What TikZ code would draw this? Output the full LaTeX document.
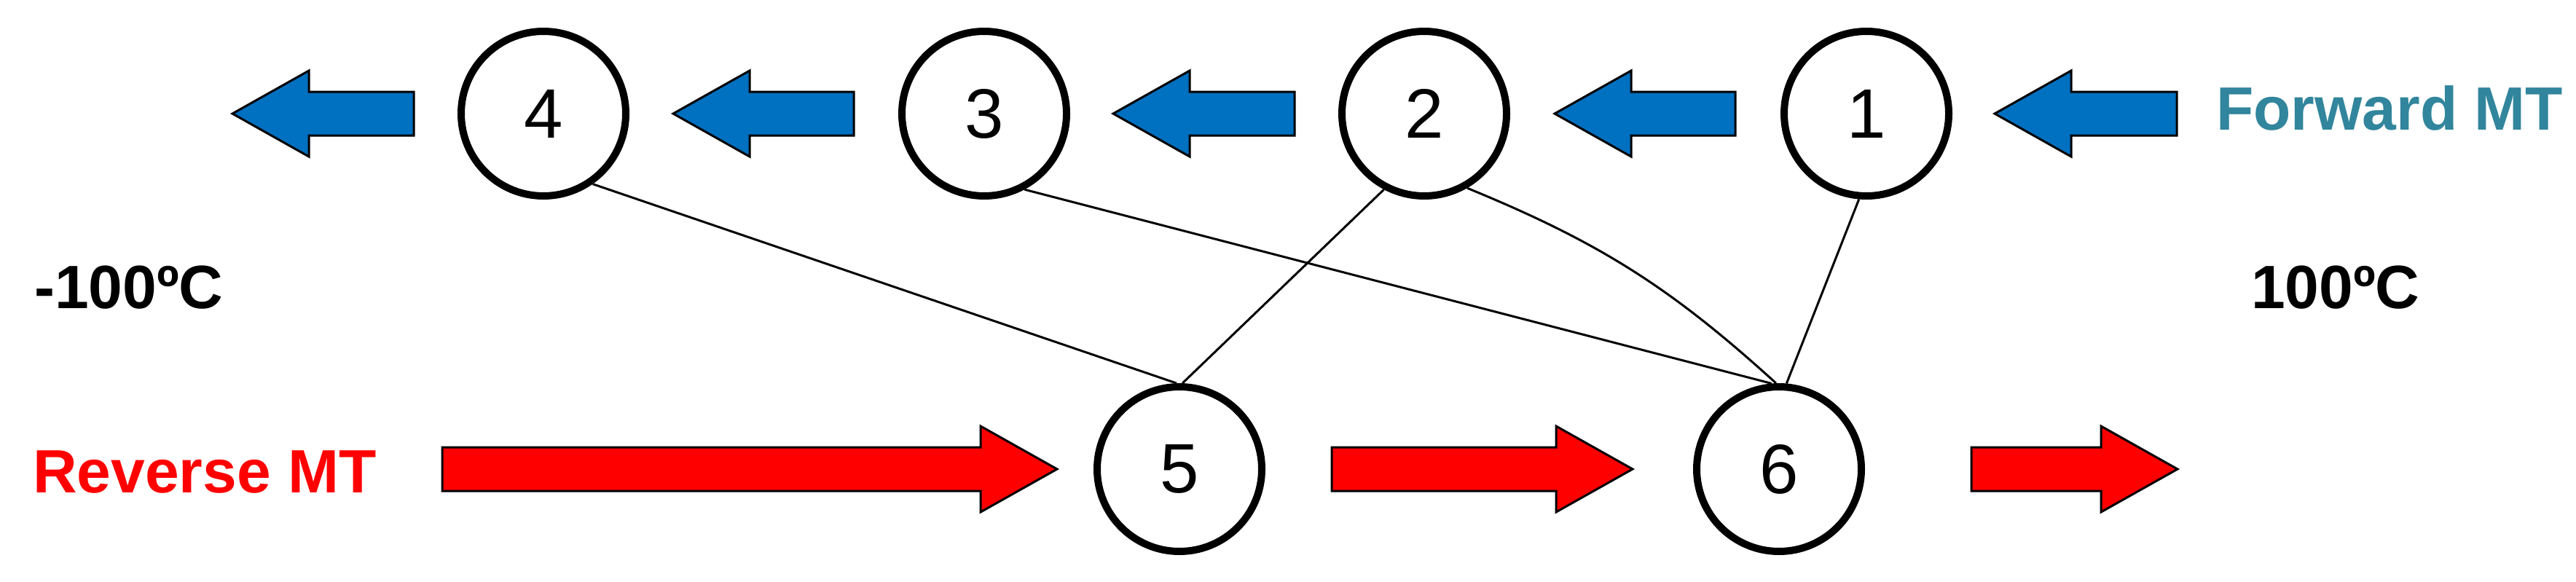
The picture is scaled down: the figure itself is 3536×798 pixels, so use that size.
\documentclass[tikz,border=0pt]{standalone}
\usepackage{fontspec}
\setmainfont{Liberation Sans}
\definecolor{bluear}{HTML}{0070C0}
\definecolor{fwd}{HTML}{31859C}
\newcommand{\lArrow}[3]{% tip x, tail x, y
  \draw[blarr] (#1,#3) -- (#1+105,#3-59) -- (#1+105,#3-30) -- (#2,#3-30) -- (#2,#3+30) -- (#1+105,#3+30) -- (#1+105,#3+59) -- cycle;}
\newcommand{\rArrow}[3]{% tail x, tip x, y
  \draw[rdarr] (#2,#3) -- (#2-105,#3-59) -- (#2-105,#3-30) -- (#1,#3-30) -- (#1,#3+30) -- (#2-105,#3+30) -- (#2-105,#3+59) -- cycle;}
\begin{document}
\begin{tikzpicture}[x=0.5pt,y=-0.5pt,
  st/.style={circle,draw,line width=5pt,minimum size=113pt,inner sep=0pt,font=\fontsize{48}{50}\selectfont},
  blarr/.style={fill=bluear,draw=black,line width=1.5pt},
  rdarr/.style={fill=red,draw=black,line width=1.5pt},
  con/.style={line width=1.5pt},
  lbl/.style={font=\fontsize{42}{44}\selectfont\bfseries}]
\useasboundingbox (0,0) rectangle (3536,798);
\node[st] (n4) at (746,156) {4};
\node[st] (n3) at (1351,156) {3};
\node[st] (n2) at (1955,156) {2};
\node[st] (n1) at (2562,156) {1};
\node[st] (n5) at (1619,644) {5};
\node[st] (n6) at (2442,644) {6};
\lArrow{319}{568}{156}
\lArrow{924}{1172}{156}
\lArrow{1528}{1777}{156}
\lArrow{2134}{2382}{156}
\lArrow{2738}{2988}{156}
\rArrow{607}{1451}{644}
\rArrow{1828}{2241}{644}
\rArrow{2706}{2989}{644}
\draw[con] (n4.-55) -- (n5.92);
\draw[con] (n3.-62) -- (n6.95);
\draw[con] (n2.-118) -- (n5.88);
\draw[con] (n2.-60) to[bend left=10] (n6.92);
\draw[con] (n1.-95) -- (n6.85);
\node[lbl,anchor=west] (tl) at (40,395) {-100ºC};
\node[lbl,anchor=west] (tr) at (3083,395) {100ºC};
\node[lbl,anchor=west,text=red] (rv) at (38,648) {Reverse MT};
\node[lbl,anchor=west,text=fwd] (fw) at (3035,148) {Forward MT};
\end{tikzpicture}
\end{document}
